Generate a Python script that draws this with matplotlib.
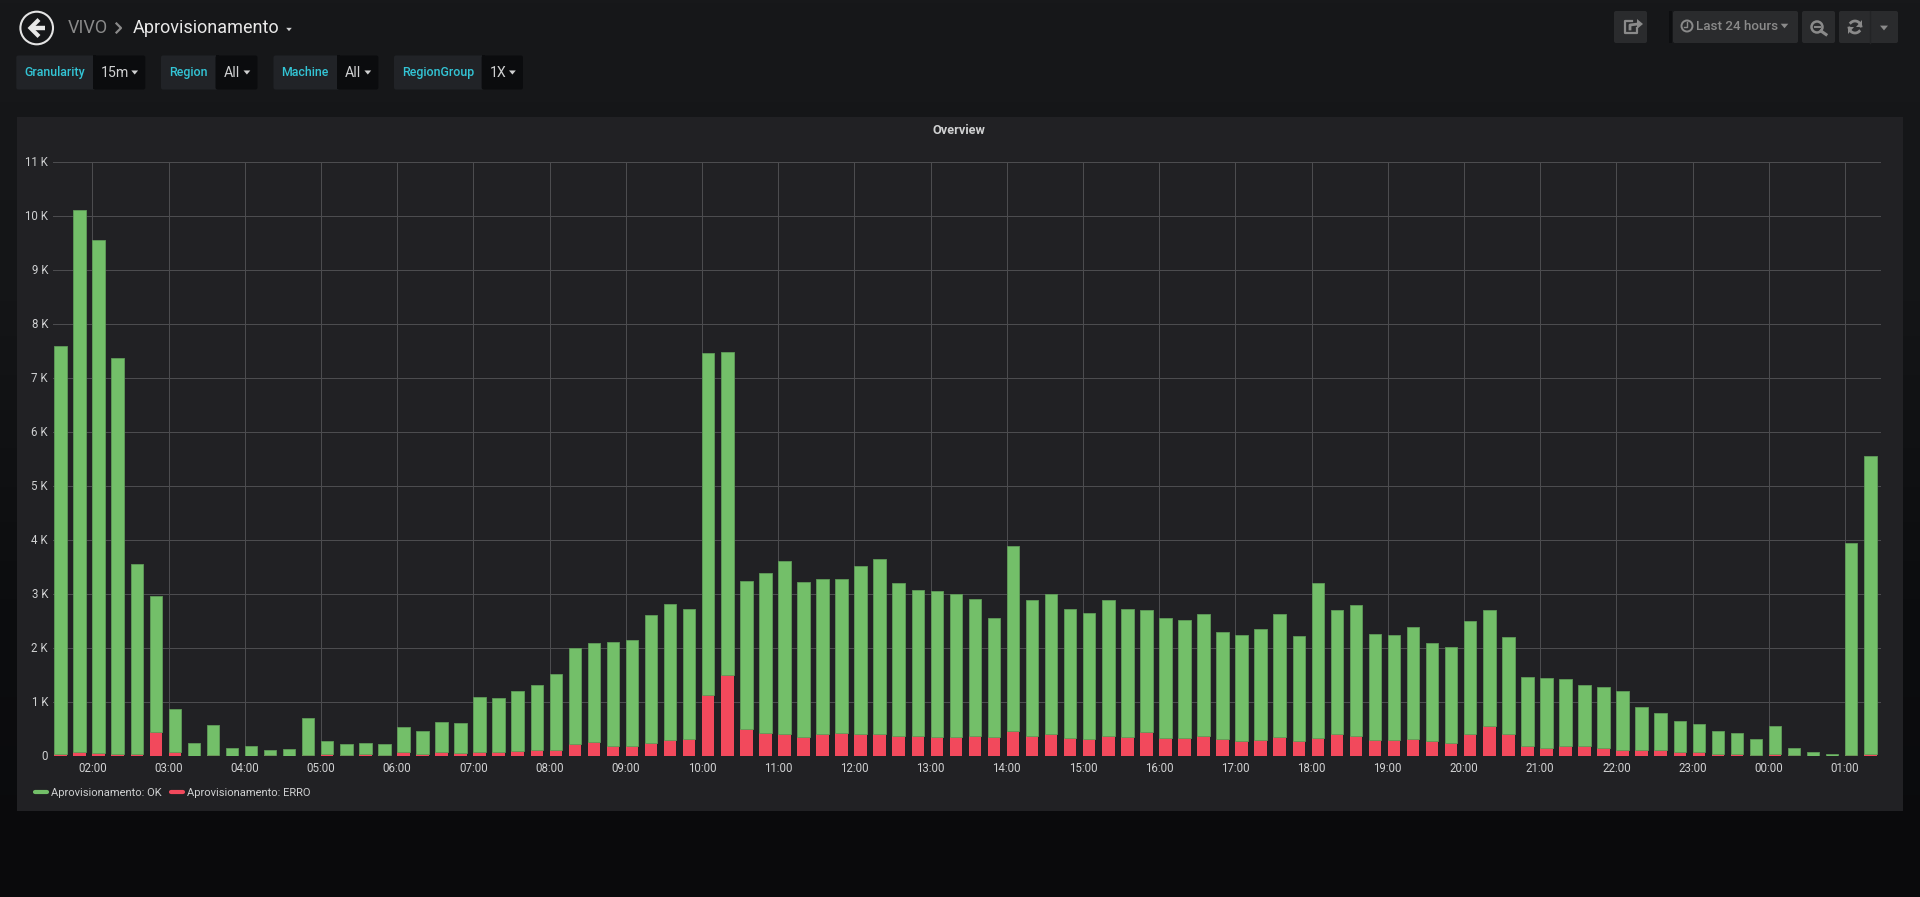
import numpy as np
import matplotlib
matplotlib.use("Agg")
import matplotlib.pyplot as plt
from matplotlib.colors import LinearSegmentedColormap
from matplotlib.lines import Line2D
from matplotlib.patches import Circle, FancyBboxPatch, Polygon, Rectangle
from matplotlib.transforms import ScaledTranslation

plt.rcParams['font.family'] = ['Roboto', 'DejaVu Sans']

# ==========================================
# DATA (15 minute buckets, starting 01:30)
# ==========================================
BUCKET_START_HOUR = 1.5
BUCKET_HOURS = 0.25

ok_values = [
    7563, 10054, 9517, 7333, 3531, 2522, 802, 240, 562, 130, 167, 105,
    117, 685, 234, 198, 209, 216, 451, 414, 555, 556, 1037, 1006,
    1118, 1204, 1401, 1784, 1839, 1932, 1951, 2370, 2525, 2420, 6353, 5990,
    2752, 2966, 3215, 2870, 2875, 2854, 3125, 3249, 2842, 2712, 2710, 2638,
    2540, 2210, 3433, 2518, 2605, 2401, 2339, 2522, 2370, 2266, 2217, 2173,
    2253, 1982, 1975, 2056, 2283, 1932, 2879, 2309, 2414, 1963, 1944, 2075,
    1815, 1777, 2099, 2155, 1796, 1278, 1302, 1247, 1129, 1129, 1099, 784,
    673, 574, 530, 426, 389, 290, 519, 124, 74, 25, 3928, 5535,
]
erro_values = [
    37, 56, 43, 37, 19, 438, 68, 0, 12, 0, 0, 6,
    0, 6, 31, 6, 19, 6, 74, 37, 62, 49, 56, 68,
    80, 111, 111, 210, 247, 179, 185, 241, 284, 302, 1117, 1500,
    488, 414, 395, 340, 395, 426, 395, 401, 358, 358, 340, 352,
    370, 340, 457, 358, 395, 321, 309, 358, 340, 438, 333, 333,
    364, 302, 265, 296, 340, 278, 321, 395, 370, 284, 284, 302,
    265, 235, 395, 549, 395, 173, 136, 179, 173, 136, 105, 111,
    111, 74, 56, 37, 37, 12, 37, 6, 0, 0, 12, 25,
]

hour_ticks = list(range(2, 26))
hour_labels = ['02:00', '03:00', '04:00', '05:00', '06:00', '07:00', '08:00', '09:00',
               '10:00', '11:00', '12:00', '13:00', '14:00', '15:00', '16:00', '17:00',
               '18:00', '19:00', '20:00', '21:00', '22:00', '23:00', '00:00', '01:00']
y_ticks = list(range(0, 12000, 1000))
y_labels = ['0'] + [f'{i} K' for i in range(1, 12)]

# template variable dropdowns: name, value, left, split, right
variables = [
    ('Granularity', '15m', 16.3, 93, 145.3),
    ('Region', 'All', 161, 215.5, 257.5),
    ('Machine', 'All', 273.5, 337, 378.4),
    ('RegionGroup', '1X', 394, 481.6, 523),
]

# ==========================================
# COLOURS
# ==========================================
GREEN = '#73bf69'
GREEN_EDGE = '#5f9c58'
RED = '#f2495c'
PANEL = '#212124'
GRID = '#4c4c4f'
TEXT = '#d0d1d2'
CYAN = '#33c5d6'
BUTTON = '#2a2b2d'
MUTED = '#8a8a8a'

W, H = 1920, 897
fig = plt.figure(figsize=(W / 100, H / 100), dpi=100)

# page chrome lives on a full figure axes in pixel coordinates
bg = fig.add_axes([0, 0, 1, 1], zorder=0)
bg.set_xlim(0, W)
bg.set_ylim(H, 0)
bg.axis('off')
cmap = LinearSegmentedColormap.from_list('page', ['#17181a', '#141517', '#0c0d0f', '#0a0a0c'])
bg.imshow(np.linspace(0, 1, 256).reshape(-1, 1), cmap=cmap, extent=(0, W, H, 0), aspect='auto')


def box(x0, y0, x1, y1, color, z=1):
    bg.add_patch(FancyBboxPatch((x0 + 2, y0 + 2), x1 - x0 - 4, y1 - y0 - 4,
                                boxstyle='round,pad=2,rounding_size=2',
                                facecolor=color, edgecolor='none', zorder=z))


def caret(x, y, size, color):
    bg.add_patch(Polygon([(x - size, y - size * 0.6), (x + size, y - size * 0.6), (x, y + size * 0.6)],
                         closed=True, facecolor=color, edgecolor='none', zorder=3))


# dashboard header
bg.add_patch(Circle((36.7, 28), 16.3, facecolor='none', edgecolor='#e4e4e4', linewidth=1.5, zorder=3))
bg.plot([45, 32], [28, 28], color='#e8e8e8', linewidth=3.2, zorder=3, solid_capstyle='butt')
bg.plot([37.5, 30.5, 37.5], [21, 28, 35], color='#e8e8e8', linewidth=3, zorder=3, solid_joinstyle='miter')
bg.text(67.3, 28, 'VIVO', color=MUTED, fontsize=13, va='center', ha='left', zorder=3)
bg.plot([116.5, 121, 116.5], [23.5, 28, 32.5], color=MUTED, linewidth=1.6, zorder=3)
bg.text(132.5, 28, 'Aprovisionamento', color='#e8e8e8', fontsize=13, va='center', ha='left', zorder=3)
caret(289, 29.5, 2.8, TEXT)

for name, value, left, split, right in variables:
    box(left, 55.5, split + 3, 89.5, '#212327')
    box(split, 55.5, right, 89.5, '#0b0c0e', z=2)
    bg.add_patch(Rectangle((split, 55.5), 3, 34, facecolor='#0b0c0e', edgecolor='none', zorder=2))
    bg.text((left + split) / 2, 72.5, name, color=CYAN, fontsize=8.9, fontweight='medium',
            va='center', ha='center', zorder=3)
    bg.text(split + 8, 73, value, color=TEXT, fontsize=10.2, va='center', ha='left', zorder=3)
    caret(right - 10.6, 72.5, 3.4, TEXT)

# toolbar buttons
box(1614, 11, 1647, 43, BUTTON)
box(1673, 11, 1798, 43, BUTTON)
box(1802, 11, 1835, 43, BUTTON)
box(1839, 11, 1898, 43, BUTTON)
bg.plot([1870, 1870], [11, 43], color='#232426', linewidth=1, zorder=2)
bg.add_patch(Rectangle((1669, 11), 3, 32, facecolor='#0d0e10', edgecolor='none', zorder=1))

# share icon
bg.plot([1632, 1625, 1625, 1637, 1637], [21, 21, 33, 33, 28], color=MUTED, linewidth=1.6, zorder=3)
bg.plot([1630, 1630, 1638], [29, 25, 24], color=MUTED, linewidth=2, zorder=3)
bg.add_patch(Polygon([(1637, 19), (1643, 24), (1637, 29)], closed=True, facecolor=MUTED, edgecolor='none', zorder=3))
# clock
bg.add_patch(Circle((1687, 26), 5.5, facecolor='none', edgecolor=MUTED, linewidth=1.4, zorder=3))
bg.plot([1687, 1687, 1684], [22.5, 27, 27], color=MUTED, linewidth=1, zorder=3)
bg.text(1696, 26.5, 'Last 24 hours', color=MUTED, fontsize=9.6, fontweight='medium', va='center', ha='left', zorder=3)
caret(1784.5, 26, 3.8, MUTED)
# zoom out
bg.add_patch(Circle((1817, 27), 5.5, facecolor='none', edgecolor=MUTED, linewidth=1.8, zorder=3))
bg.plot([1814.5, 1819.5], [27, 27], color=MUTED, linewidth=1.4, zorder=3)
bg.plot([1821, 1826], [31, 34.5], color=MUTED, linewidth=2.2, zorder=3)
# refresh
theta = np.linspace(0.25 * np.pi, 0.95 * np.pi, 20)
bg.plot(1855 + 6 * np.cos(theta + np.pi), 27 + 6 * np.sin(theta + np.pi), color=MUTED, linewidth=2, zorder=3)
bg.plot(1855 + 6 * np.cos(theta), 27 + 6 * np.sin(theta), color=MUTED, linewidth=2, zorder=3)
bg.add_patch(Polygon([(1862, 20), (1862, 27), (1856, 27)], closed=True, facecolor=MUTED, edgecolor='none', zorder=3))
bg.add_patch(Polygon([(1848, 34), (1848, 27), (1854, 27)], closed=True, facecolor=MUTED, edgecolor='none', zorder=3))
caret(1884, 28, 4, MUTED)

# panel
bg.add_patch(Rectangle((17, 117), 1886, 694, facecolor=PANEL, edgecolor='none', zorder=1))
bg.text(959, 131, 'Overview', color=TEXT, fontsize=9.2, fontweight='bold', va='center', ha='center', zorder=3)

# ==========================================
# CHART
# ==========================================
AX_LEFT, AX_RIGHT, AX_TOP, AX_BOTTOM = 53, 1881, 162.3, 755.5
PX_PER_HOUR = 76.2
FIRST_BAR_PX = 54.3
BAR_PX = 12.5

ax = fig.add_axes([AX_LEFT / W, 1 - AX_BOTTOM / H, (AX_RIGHT - AX_LEFT) / W, (AX_BOTTOM - AX_TOP) / H], zorder=1)
ax.patch.set_alpha(0)

ok = np.array(ok_values)
erro = np.array(erro_values)
t = BUCKET_START_HOUR + BUCKET_HOURS * np.arange(len(ok))
bar_width = BAR_PX / PX_PER_HOUR

ax.bar(t, erro, width=bar_width, align='edge', color=RED, edgecolor='none', zorder=3,
       label='Aprovisionamento: ERRO')
ax.bar(t, ok, width=bar_width, bottom=erro, align='edge', color=GREEN, edgecolor=GREEN_EDGE, linewidth=0.6,
       zorder=3, label='Aprovisionamento: OK')

ax.set_xlim(BUCKET_START_HOUR - (FIRST_BAR_PX - AX_LEFT) / PX_PER_HOUR,
            BUCKET_START_HOUR + (AX_RIGHT - FIRST_BAR_PX) / PX_PER_HOUR)
ax.set_ylim(0, 11000)
ax.set_xticks(hour_ticks)
ax.set_xticklabels(hour_labels)
ax.set_yticks(y_ticks)
ax.set_yticklabels(y_labels)
ax.tick_params(axis='both', length=0, labelsize=8.3, labelcolor=TEXT)
ax.tick_params(axis='x', pad=4.8)
ax.tick_params(axis='y', pad=3.6)
# y labels sit one pixel above their gridline
nudge = ScaledTranslation(0, 1 / 100, fig.dpi_scale_trans)
for lbl in ax.get_yticklabels():
    lbl.set_transform(lbl.get_transform() + nudge)
ax.grid(True, color=GRID, linewidth=0.72, zorder=0)
ax.set_axisbelow(True)
for side in ax.spines.values():
    side.set_visible(False)

handles = [Line2D([], [], color=GREEN, linewidth=3, solid_capstyle='round'),
           Line2D([], [], color=RED, linewidth=3, solid_capstyle='round')]
leg = ax.legend(handles, ['Aprovisionamento: OK', 'Aprovisionamento: ERRO'], ncol=2, frameon=False,
                loc='center left', bbox_to_anchor=(35 / W, 1 - 793 / H), bbox_transform=fig.transFigure,
                fontsize=8.0, handlelength=1.05, handletextpad=0.4, columnspacing=0.85,
                borderaxespad=0, borderpad=0, labelcolor=TEXT)

plt.savefig('out.png', dpi=100, facecolor='#161719')
